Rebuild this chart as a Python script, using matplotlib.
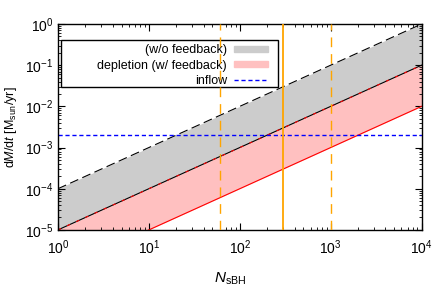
import numpy as np
import matplotlib.pyplot as plt
from matplotlib.patches import Patch, Rectangle
from matplotlib.lines import Line2D

plt.rcParams['font.family'] = ['Liberation Sans', 'DejaVu Sans']
plt.rcParams['mathtext.fontset'] = 'custom'
plt.rcParams['mathtext.rm'] = 'Liberation Sans'
plt.rcParams['mathtext.it'] = 'Liberation Sans:italic'

# data
n_sbh = np.array([1.0, 1e4])
nofb_upper = np.array([1e-4, 1.0])     # dashed black
nofb_lower = np.array([1e-5, 1e-1])    # solid black
dep_upper = np.array([1e-5, 1e-1])
dep_lower = np.array([1e-6, 1e-2])     # red
inflow = 2e-3
vlines_dashed = [60, 1000]
vline_solid = 300
legend_labels = ['(w/o feedback)', 'depletion (w/ feedback)', 'inflow']

fig = plt.figure(figsize=(4.36, 2.91), dpi=100)
ax = fig.add_axes([0.133, 0.21, 0.834, 0.7075])

ax.fill_between(n_sbh, nofb_lower, nofb_upper, color='#cccccc', lw=0)
ax.fill_between(n_sbh, dep_lower, dep_upper, color='#ffc0c0', lw=0)
ax.plot(n_sbh, nofb_upper, color='black', lw=0.8, dashes=(8, 4))
ax.plot(n_sbh, nofb_lower, color='black', lw=0.8)
ax.plot(n_sbh, dep_upper, color='red', lw=0.8, dashes=(3, 6))
ax.plot(n_sbh, dep_lower, color='red', lw=0.8)
ax.axhline(inflow, color='#0000ff', lw=1.0, dashes=(3, 2))
for xv in vlines_dashed:
    ax.axvline(xv, color='#ffa500', lw=1.0, dashes=(7, 5), zorder=6)
ax.axvline(vline_solid, color='#ffa500', lw=1.3, zorder=6)

ax.set_xscale('log')
ax.set_yscale('log')
ax.set_xlim(1, 1e4)
ax.set_ylim(1e-5, 1)
ax.tick_params(which='both', direction='in', top=True, right=True, labelsize=10)
ax.tick_params(which='major', length=5)
ax.tick_params(which='minor', length=2.5)
for s in ax.spines.values():
    s.set_linewidth(1.0)
ax.tick_params(axis='x', pad=6)

ax.set_xlabel(r'$N_{\rm sBH}$', fontsize=11)
ax.xaxis.set_label_coords(0.473, -0.2)
ax.set_ylabel(r'd$M$/d$t$ [M$_{\rm sun}$/yr]', fontsize=9, labelpad=4)

# gnuplot-like key: wide box, text right-aligned, sample on the right
ax.add_patch(Rectangle((0.008, 0.694), 0.597, 0.228, transform=ax.transAxes,
                       facecolor='white', edgecolor='black', lw=1.0, zorder=5))
handles = [Patch(color='#cccccc'), Patch(color='#ffc0c0'),
           Line2D([], [], color='#0000ff', lw=1.0, dashes=(3, 2))]
leg = ax.legend(handles, legend_labels, loc='upper right',
                bbox_to_anchor=(0.59, 0.922), markerfirst=False, fontsize=9,
                frameon=False, borderaxespad=0.0, handlelength=2.7,
                handleheight=0.4, labelspacing=0.25, borderpad=0.35,
                handletextpad=0.6, alignment='right')
leg.set_zorder(5.5)

fig.savefig('out.png', dpi=100)
